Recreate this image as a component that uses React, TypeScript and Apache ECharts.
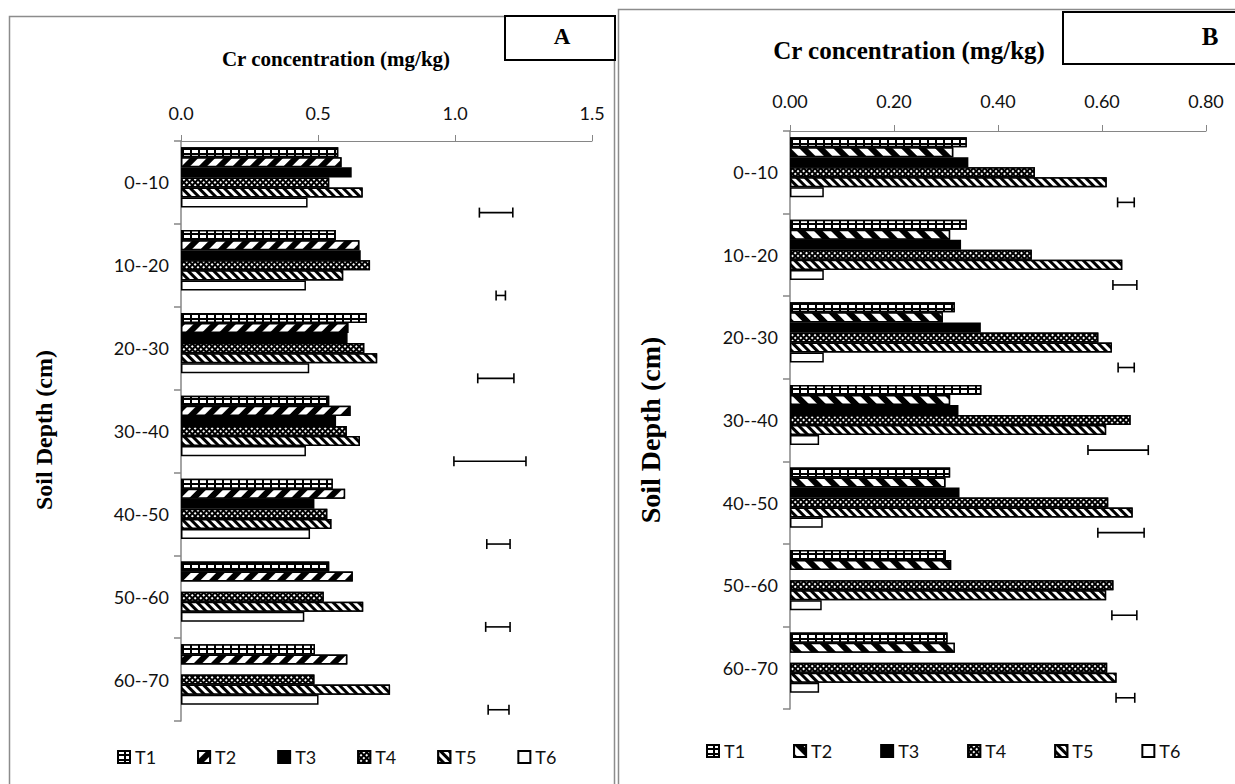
import React, { useEffect, useRef } from 'react';
import * as echarts from 'echarts';

const depths = ['0--10', '10--20', '20--30', '30--40', '40--50', '50--60', '60--70'];
const names = ['T1', 'T2', 'T3', 'T4', 'T5', 'T6'];

const aT1 = [0.574, 0.565, 0.678, 0.541, 0.554, 0.541, 0.489];
const aT2 = [0.586, 0.651, 0.611, 0.619, 0.599, 0.627, 0.607];
const aT3 = [0.623, 0.656, 0.608, 0.566, 0.487, null, null];
const aT4 = [0.541, 0.69, 0.669, 0.605, 0.534, 0.521, 0.487];
const aT5 = [0.663, 0.592, 0.716, 0.653, 0.549, 0.665, 0.763];
const aT6 = [0.462, 0.456, 0.468, 0.456, 0.471, 0.45, 0.502];
const aErrLow = [1.089, 1.15, 1.083, 0.996, 1.116, 1.112, 1.121];
const aErrHigh = [1.211, 1.184, 1.215, 1.259, 1.201, 1.201, 1.197];
const aTicks = { min: 0, max: 1.5, interval: 0.5, digits: 1 };

const bT1 = [0.34, 0.34, 0.317, 0.368, 0.308, 0.3, 0.303];
const bT2 = [0.314, 0.308, 0.294, 0.308, 0.299, 0.31, 0.317];
const bT3 = [0.343, 0.329, 0.367, 0.324, 0.326, null, null];
const bT4 = [0.471, 0.465, 0.593, 0.655, 0.612, 0.622, 0.61];
const bT5 = [0.609, 0.639, 0.619, 0.608, 0.659, 0.608, 0.628];
const bT6 = [0.065, 0.065, 0.065, 0.056, 0.063, 0.061, 0.056];
const bErrLow = [0.63, 0.621, 0.631, 0.573, 0.592, 0.619, 0.627];
const bErrHigh = [0.662, 0.667, 0.662, 0.689, 0.681, 0.667, 0.663];
const bTicks = { min: 0, max: 0.8, interval: 0.2, digits: 2 };

const GAP = 0.15;
const SLOTS = 7;

const gridDecal = { symbol: 'rect', symbolSize: 1, color: '#ffffff', backgroundColor: '#000000', dashArrayX: [5.5, 1.6], dashArrayY: [2.8, 1.4], rotation: 0 };
const wideSlash = { symbol: 'rect', symbolSize: 1, color: '#ffffff', backgroundColor: '#000000', dashArrayX: [1, 0], dashArrayY: [5.5, 5.8], rotation: -Math.PI / 4 };
const wideBack = { symbol: 'rect', symbolSize: 1, color: '#ffffff', backgroundColor: '#000000', dashArrayX: [1, 0], dashArrayY: [5.5, 5.8], rotation: Math.PI / 4 };
const checkDecal = { symbol: 'rect', symbolSize: 1, color: '#ffffff', backgroundColor: '#000000', dashArrayX: [1.6, 1.1], dashArrayY: [1.6, 1.1], rotation: Math.PI / 4 };
const narrowBack = { symbol: 'rect', symbolSize: 1, color: '#ffffff', backgroundColor: '#000000', dashArrayX: [1, 0], dashArrayY: [2.8, 2.8], rotation: Math.PI / 4 };

function styleFor(i: number, panel: 'A' | 'B') {
  const base = { borderColor: '#000', borderWidth: 1.5 };
  if (i === 0) return { ...base, color: '#000', decal: gridDecal };
  if (i === 1) return { ...base, color: '#000', decal: panel === 'A' ? wideSlash : wideBack };
  if (i === 2) return { ...base, color: '#000' };
  if (i === 3) return { ...base, color: '#000', decal: checkDecal };
  if (i === 4) return { ...base, color: '#000', decal: narrowBack };
  return { ...base, color: '#fff' };
}

const SERIF = '"Liberation Serif", "DejaVu Serif", serif';
const SANS = 'Lato, "Open Sans", sans-serif';

type Cfg = {
  panel: 'A' | 'B';
  values: (number | null)[][];
  errLow: number[];
  errHigh: number[];
  ticks: { min: number; max: number; interval: number; digits: number };
  grid: { left: number; top: number; width: number; height: number };
  frame: { x: number; y: number; w: number; h: number };
  title: { x: number; y: number; size: number };
  box: { x: number; y: number; w: number; h: number; tx: number; ty: number; size: number };
  ylabel: { x: number; y: number; size: number };
  legend: { left: number; top: number; gap: number };
  tickFont: number;
  labelMargin: number;
};

function buildOption(c: Cfg) {
  const barSeries: any[] = c.values.map((vals, i) => ({
    name: names[i],
    type: 'bar',
    barGap: '0%',
    barCategoryGap: GAP * 100 + '%',
    data: vals.map((v) => (v === null ? '-' : v)),
    itemStyle: styleFor(i, c.panel),
    emphasis: { disabled: true },
  }));
  barSeries.push({
    name: 'spacer',
    type: 'bar',
    barGap: '0%',
    barCategoryGap: GAP * 100 + '%',
    data: depths.map(() => '-'),
    itemStyle: { color: 'transparent' },
    silent: true,
  });
  const errData = depths.map((_, i) => [c.errLow[i], c.errHigh[i], i]);
  barSeries.push({
    name: 'err',
    type: 'custom',
    silent: true,
    encode: { x: [0, 1], y: 2 },
    data: errData,
    renderItem: (_p: any, api: any) => {
      const lo = api.value(0);
      const hi = api.value(1);
      const idx = api.value(2);
      const p1 = api.coord([lo, idx]);
      const p2 = api.coord([hi, idx]);
      const band = api.size([0, 1])[1];
      const used = band * (1 - GAP);
      const slot = used / SLOTS;
      const y = p1[1] - used / 2 + slot * (SLOTS - 0.5);
      const cap = 5;
      const st = { stroke: '#000', lineWidth: 1.6 };
      return {
        type: 'group',
        children: [
          { type: 'line', shape: { x1: p1[0], y1: y, x2: p2[0], y2: y }, style: st },
          { type: 'line', shape: { x1: p1[0], y1: y - cap, x2: p1[0], y2: y + cap }, style: st },
          { type: 'line', shape: { x1: p2[0], y1: y - cap, x2: p2[0], y2: y + cap }, style: st },
        ],
      };
    },
  });

  return {
    animation: false,
    backgroundColor: '#ffffff',
    grid: { ...c.grid, containLabel: false },
    legend: {
      data: names,
      left: c.legend.left,
      top: c.legend.top,
      itemGap: c.legend.gap,
      itemWidth: 12,
      itemHeight: 12,
      icon: 'rect',
      selectedMode: false,
      textStyle: { fontFamily: SANS, fontSize: 18, color: '#111' },
    },
    xAxis: {
      type: 'value',
      position: 'top',
      min: c.ticks.min,
      max: c.ticks.max,
      interval: c.ticks.interval,
      axisLine: { show: true, lineStyle: { color: '#868686', width: 1 } },
      axisTick: { show: true, length: 6, lineStyle: { color: '#868686' } },
      splitLine: { show: false },
      axisLabel: {
        margin: c.labelMargin,
        fontFamily: SANS,
        fontSize: c.tickFont,
        color: '#111',
        formatter: (v: number) => v.toFixed(c.ticks.digits),
      },
    },
    yAxis: {
      type: 'category',
      data: depths,
      inverse: true,
      axisLine: { show: true, lineStyle: { color: '#868686', width: 1.5 } },
      axisTick: { show: true, length: 7, lineStyle: { color: '#868686', width: 1.5 } },
      axisLabel: { margin: 12, fontFamily: SANS, fontSize: c.tickFont, color: '#111' },
    },
    graphic: [
      {
        type: 'rect',
        shape: { x: c.frame.x, y: c.frame.y, width: c.frame.w, height: c.frame.h },
        style: { fill: 'none', stroke: '#8c8c8c', lineWidth: 1.5 },
        silent: true,
      },
      {
        type: 'text',
        x: c.title.x,
        y: c.title.y,
        style: {
          text: 'Cr concentration (mg/kg)',
          font: `bold ${c.title.size}px ${SERIF}`,
          fill: '#000',
          align: 'center',
          verticalAlign: 'middle',
        },
      },
      {
        type: 'rect',
        shape: { x: c.box.x, y: c.box.y, width: c.box.w, height: c.box.h },
        style: { fill: '#fff', stroke: '#000', lineWidth: 2 },
      },
      {
        type: 'text',
        x: c.box.tx,
        y: c.box.ty,
        style: {
          text: c.panel,
          font: `bold ${c.box.size}px ${SERIF}`,
          fill: '#000',
          align: 'center',
          verticalAlign: 'middle',
        },
      },
      {
        type: 'text',
        x: c.ylabel.x,
        y: c.ylabel.y,
        rotation: Math.PI / 2,
        style: {
          text: 'Soil Depth (cm)',
          font: `bold ${c.ylabel.size}px ${SERIF}`,
          fill: '#000',
          align: 'center',
          verticalAlign: 'middle',
        },
      },
    ],
    series: barSeries,
  };
}

const cfgA: Cfg = {
  panel: 'A',
  values: [aT1, aT2, aT3, aT4, aT5, aT6],
  errLow: aErrLow,
  errHigh: aErrHigh,
  ticks: aTicks,
  grid: { left: 181, top: 141, width: 411, height: 580 },
  frame: { x: 9.5, y: 16.5, w: 605, h: 790 },
  title: { x: 336, y: 59, size: 21 },
  box: { x: 505, y: 16, w: 110, h: 44, tx: 562, ty: 36, size: 23 },
  ylabel: { x: 44, y: 430, size: 24 },
  legend: { left: 112, top: 743, gap: 41 },
  tickFont: 18,
  labelMargin: 19,
};

const cfgB: Cfg = {
  panel: 'B',
  values: [bT1, bT2, bT3, bT4, bT5, bT6],
  errLow: bErrLow,
  errHigh: bErrHigh,
  ticks: bTicks,
  grid: { left: 173, top: 131, width: 416, height: 578 },
  frame: { x: 1.5, y: 9.5, w: 700, h: 800 },
  title: { x: 292, y: 50, size: 25 },
  box: { x: 446, y: 12, w: 200, h: 52, tx: 593, ty: 36, size: 25 },
  ylabel: { x: 33, y: 430, size: 28 },
  legend: { left: 84, top: 737, gap: 48 },
  tickFont: 18,
  labelMargin: 21,
};

function Panel({ cfg, left, width }: { cfg: Cfg; left: number; width: number }) {
  const ref = useRef<HTMLDivElement>(null);
  useEffect(() => {
    if (!ref.current) return;
    const chart = echarts.init(ref.current, undefined, { renderer: 'svg' });
    chart.setOption(buildOption(cfg) as any);
    return () => chart.dispose();
  }, [cfg]);
  return (
    <div
      ref={ref}
      style={{ position: 'absolute', left, top: 0, width, height: 784, overflow: 'hidden' }}
    />
  );
}

export default function App() {
  return (
    <div
      style={{
        position: 'fixed',
        left: 0,
        top: 0,
        width: 1235,
        height: 784,
        background: '#fff',
        overflow: 'hidden',
      }}
    >
      <Panel cfg={cfgA} left={0} width={617} />
      <Panel cfg={cfgB} left={617} width={618} />
    </div>
  );
}
